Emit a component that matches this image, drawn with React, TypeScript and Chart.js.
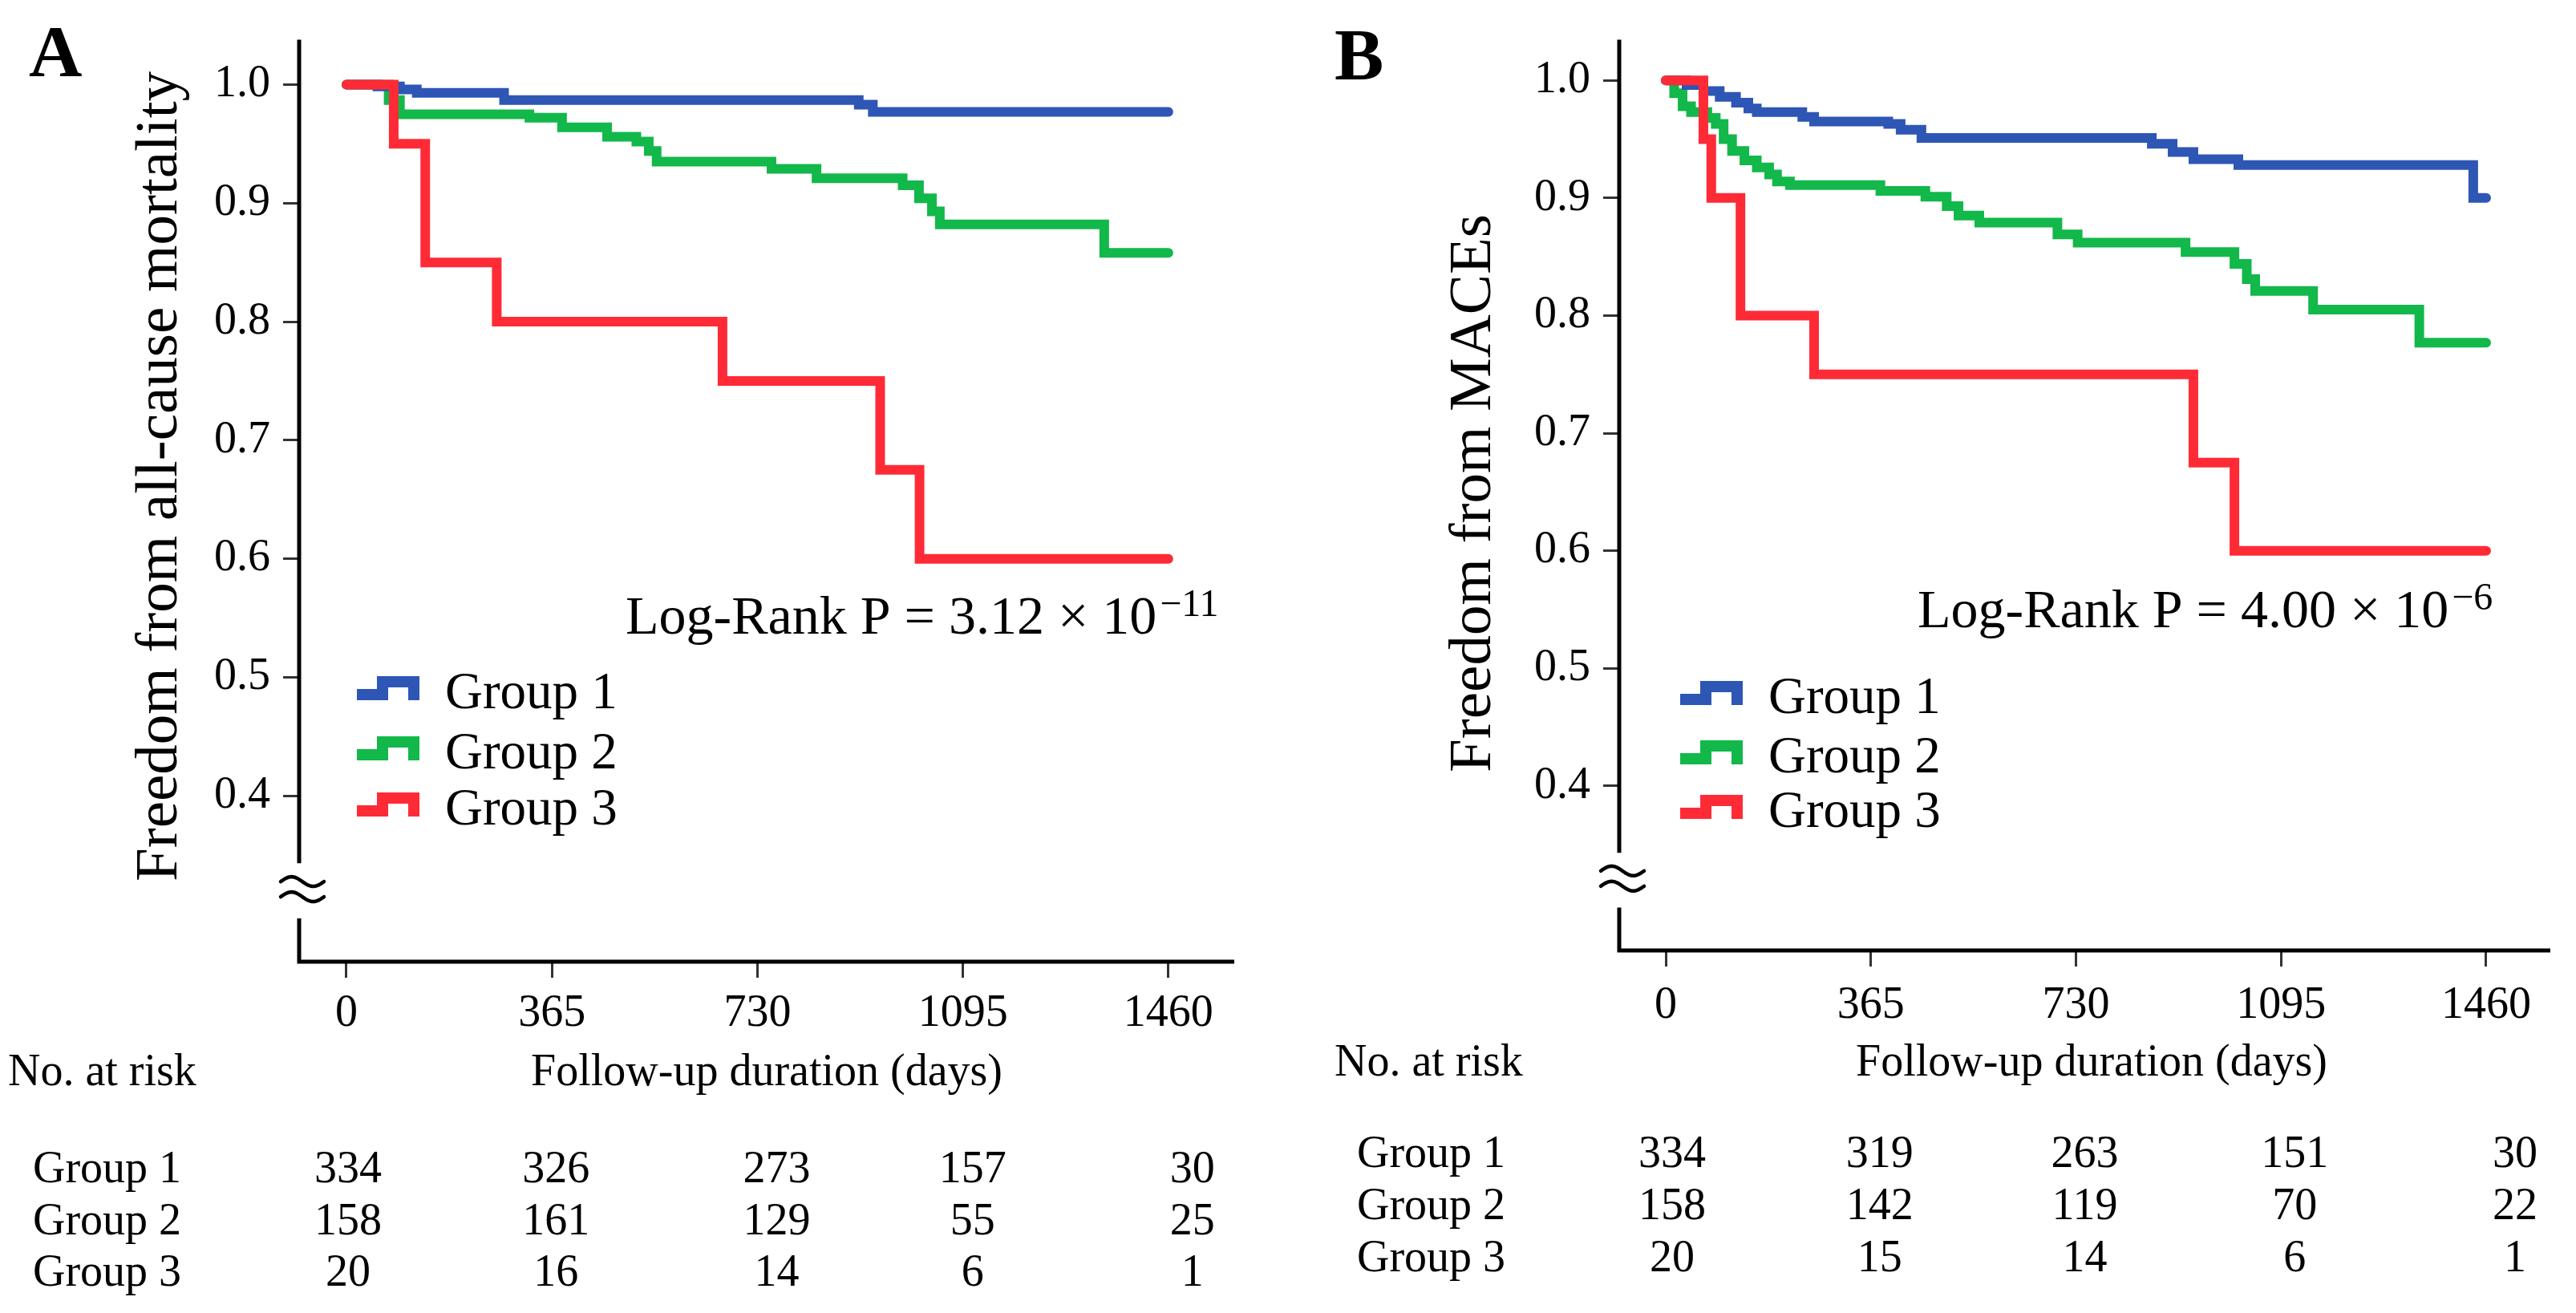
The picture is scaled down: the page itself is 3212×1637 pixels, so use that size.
import React, { useEffect, useRef } from "react";
import { Chart, registerables } from "chart.js";

Chart.register(...registerables);

// ---------- data ----------
const X_TICKS = [0, 365, 730, 1095, 1460];
const Y_TICKS = [0.4, 0.5, 0.6, 0.7, 0.8, 0.9, 1.0];
const Y_BREAK = [0.2966, 0.3432];
const GROUP_LABELS = ["Group 1", "Group 2", "Group 3"];

// Panel A: all-cause mortality
const A_G1_DAYS = [0, 55, 95, 125, 280, 910, 935, 1460];
const A_G1_SURV = [1.0, 0.9985, 0.996, 0.993, 0.987, 0.983, 0.977, 0.977];
const A_G2_DAYS = [0, 75, 95, 325, 383, 463, 515, 537, 551, 755, 835, 988, 1017, 1040, 1054, 1346, 1460];
const A_G2_SURV = [1.0, 0.987, 0.975, 0.972, 0.964, 0.956, 0.952, 0.944, 0.935, 0.929, 0.921, 0.915, 0.904, 0.893, 0.882, 0.858, 0.858];
const A_G3_DAYS = [0, 84, 140, 267, 668, 948, 1018, 1460];
const A_G3_SURV = [1.0, 0.95, 0.85, 0.8, 0.75, 0.675, 0.6, 0.6];

// Panel B: MACEs
const B_G1_DAYS = [0, 37, 67, 96, 125, 147, 162, 243, 264, 396, 418, 455, 865, 902, 939, 1019, 1437, 1460];
const B_G1_SURV = [1.0, 0.996, 0.991, 0.986, 0.981, 0.976, 0.973, 0.969, 0.965, 0.963, 0.958, 0.951, 0.946, 0.939, 0.933, 0.928, 0.9, 0.9];
const B_G2_DAYS = [0, 15, 30, 45, 74, 89, 103, 118, 140, 162, 184, 198, 221, 382, 462, 500, 521, 558, 697, 733, 925, 1012, 1034, 1049, 1152, 1341, 1460];
const B_G2_SURV = [1.0, 0.989, 0.978, 0.973, 0.968, 0.963, 0.95, 0.94, 0.932, 0.926, 0.92, 0.914, 0.911, 0.906, 0.901, 0.893, 0.885, 0.879, 0.869, 0.862, 0.854, 0.844, 0.831, 0.821, 0.805, 0.777, 0.777];
const B_G3_DAYS = [0, 67, 81, 133, 264, 939, 1012, 1460];
const B_G3_SURV = [1.0, 0.95, 0.9, 0.8, 0.75, 0.675, 0.6, 0.6];

// Numbers at risk
const RISK_A = [
  [334, 326, 273, 157, 30],
  [158, 161, 129, 55, 25],
  [20, 16, 14, 6, 1],
];
const RISK_B = [
  [334, 319, 263, 151, 30],
  [158, 142, 119, 70, 22],
  [20, 15, 14, 6, 1],
];

// ---------- style ----------
const COLORS = ["#2d56b5", "#12b84a", "#fe2b36"];
const FONT = "'Liberation Serif', 'Times New Roman', serif";

type Series = { days: number[]; surv: number[] };
type PanelSpec = {
  letter: string;
  yTitle: string;
  pMain: string;
  pExp: string;
  series: Series[];
  risk: number[][];
  left: number;
  padRight: number;
  padTop: number;
  yW: number;
  xH: number;
  xMin: number;
  xMax: number;
  yMin: number;
  yMax: number;
  xPad: number;
  letterX: number;
  letterY: number;
  titleX: number;
  titleY: number;
  pX: number;
  pY: number;
  legX: number;
  legY: number[];
  headY: number;
  noX: number;
  fuX: number;
  rowY: number[];
  rowLabelX: number;
  colOff: number[];
};

const PANELS: PanelSpec[] = [
  {
    letter: "A",
    yTitle: "Freedom from all-cause mortality",
    pMain: "Log-Rank P = 3.12 \u00d7 10",
    pExp: "\u221211",
    series: [
      { days: A_G1_DAYS, surv: A_G1_SURV },
      { days: A_G2_DAYS, surv: A_G2_SURV },
      { days: A_G3_DAYS, surv: A_G3_SURV },
    ],
    risk: RISK_A,
    left: 0,
    padRight: 67,
    padTop: 48,
    yW: 373,
    xH: 438,
    xMin: -84,
    xMax: 1577,
    yMin: 0.2601,
    yMax: 1.0378,
    xPad: 12,
    letterX: 36,
    letterY: 95,
    titleX: 220,
    titleY: 594,
    pX: 780,
    pY: 790,
    legX: 555,
    legY: [883, 958, 1028],
    headY: 1353,
    noX: 10,
    fuX: 956,
    rowY: [1474, 1539, 1603],
    rowLabelX: 41,
    colOff: [2, 5, 24, 12, 30],
  },
  {
    letter: "B",
    yTitle: "Freedom from MACEs",
    pMain: "Log-Rank P = 4.00 \u00d7 10",
    pExp: "\u22126",
    series: [
      { days: B_G1_DAYS, surv: B_G1_SURV },
      { days: B_G2_DAYS, surv: B_G2_SURV },
      { days: B_G3_DAYS, surv: B_G3_SURV },
    ],
    risk: RISK_B,
    left: 1606,
    padRight: 32,
    padTop: 39,
    yW: 413,
    xH: 452,
    xMin: -82.8,
    xMax: 1574.2,
    yMin: 0.2601,
    yMax: 1.0345,
    xPad: 16,
    letterX: 58,
    letterY: 99,
    titleX: 252,
    titleY: 615,
    pX: 785,
    pY: 782,
    legX: 599,
    legY: [889, 963, 1031],
    headY: 1341,
    noX: 58,
    fuX: 1002,
    rowY: [1455, 1520, 1585],
    rowLabelX: 86,
    colOff: [8, 11, 11, 17, 36],
  },
];

function makeDecor(spec: PanelSpec) {
  return {
    id: "kmDecor",
    afterDraw(chart: any) {
      const ctx: CanvasRenderingContext2D = chart.ctx;
      const { left, right, top, bottom } = chart.chartArea;
      const ys = chart.scales.y;
      const xs = chart.scales.x;
      ctx.save();

      // axes with break
      const yb0 = ys.getPixelForValue(Y_BREAK[0]);
      const yb1 = ys.getPixelForValue(Y_BREAK[1]);
      ctx.strokeStyle = "#000";
      ctx.lineWidth = 5;
      ctx.lineCap = "butt";
      ctx.beginPath();
      ctx.moveTo(left, top);
      ctx.lineTo(left, yb1);
      ctx.moveTo(left, yb0);
      ctx.lineTo(left, bottom + 2.5);
      ctx.moveTo(left - 2.5, bottom);
      ctx.lineTo(right, bottom);
      ctx.stroke();

      // break symbol (two waves)
      const cx = left + 4;
      const cy = (yb0 + yb1) / 2 - 2;
      ctx.lineWidth = 4.5;
      ctx.lineCap = "round";
      for (const off of [-9.5, 9.5]) {
        ctx.beginPath();
        for (let k = 0; k <= 40; k++) {
          const t = k / 40;
          const x = cx - 27 + 54 * t;
          const y = cy + off - 6 * Math.sin(2 * Math.PI * t);
          if (k === 0) ctx.moveTo(x, y);
          else ctx.lineTo(x, y);
        }
        ctx.stroke();
      }

      ctx.fillStyle = "#000";
      ctx.textBaseline = "alphabetic";

      // panel letter
      ctx.font = `bold 92px ${FONT}`;
      ctx.textAlign = "left";
      ctx.fillText(spec.letter, spec.letterX, spec.letterY);

      // y title
      ctx.save();
      ctx.translate(spec.titleX, spec.titleY);
      ctx.rotate(-Math.PI / 2);
      ctx.font = `75px ${FONT}`;
      ctx.textAlign = "center";
      ctx.fillText(spec.yTitle, 0, 0);
      ctx.restore();

      // log-rank text
      ctx.font = `68px ${FONT}`;
      ctx.textAlign = "left";
      ctx.fillText(spec.pMain, spec.pX, spec.pY);
      const w = ctx.measureText(spec.pMain).width;
      ctx.font = `48px ${FONT}`;
      ctx.fillText(spec.pExp, spec.pX + w + 4, spec.pY - 22);

      // legend
      chart.data.datasets.forEach((ds: any, i: number) => {
        const bl = spec.legY[i];
        const lx = spec.legX;
        ctx.strokeStyle = ds.borderColor;
        ctx.lineWidth = 14;
        ctx.lineCap = "butt";
        ctx.lineJoin = "miter";
        ctx.beginPath();
        ctx.moveTo(lx - 110, bl - 17);
        ctx.lineTo(lx - 78, bl - 17);
        ctx.lineTo(lx - 78, bl - 33);
        ctx.lineTo(lx - 39, bl - 33);
        ctx.lineTo(lx - 39, bl - 10);
        ctx.stroke();
        ctx.fillStyle = "#000";
        ctx.font = `65px ${FONT}`;
        ctx.textAlign = "left";
        ctx.fillText(ds.label, lx, bl);
      });

      // x title and no. at risk header
      ctx.font = `56px ${FONT}`;
      ctx.textAlign = "left";
      ctx.fillText("No. at risk", spec.noX, spec.headY);
      ctx.textAlign = "center";
      ctx.fillText("Follow-up duration (days)", spec.fuX, spec.headY);

      // risk table
      spec.risk.forEach((row, i) => {
        ctx.textAlign = "left";
        ctx.fillText(GROUP_LABELS[i], spec.rowLabelX, spec.rowY[i]);
        ctx.textAlign = "center";
        row.forEach((n, j) => {
          const x = xs.getPixelForValue(X_TICKS[j]) + spec.colOff[j];
          ctx.fillText(String(n), x, spec.rowY[i]);
        });
      });

      ctx.restore();
    },
  };
}

function buildChart(canvas: HTMLCanvasElement, spec: PanelSpec) {
  const datasets = spec.series.map((s, i) => ({
    label: GROUP_LABELS[i],
    data: s.days.map((d, j) => ({ x: d, y: s.surv[j] })),
    borderColor: COLORS[i],
    backgroundColor: COLORS[i],
    borderWidth: 12,
    stepped: true as const,
    pointRadius: 0,
    pointHoverRadius: 0,
    fill: false,
    borderCapStyle: "round" as const,
    borderJoinStyle: "miter" as const,
    order: i === 2 ? 0 : i + 1,
  }));

  return new Chart(canvas, {
    type: "line",
    data: { datasets },
    options: {
      animation: false,
      responsive: true,
      maintainAspectRatio: false,
      events: [],
      layout: { padding: { left: 0, top: spec.padTop, right: spec.padRight, bottom: 0 } },
      plugins: { legend: { display: false }, tooltip: { enabled: false }, title: { display: false } },
      scales: {
        x: {
          type: "linear",
          min: spec.xMin,
          max: spec.xMax,
          border: { display: false },
          grid: {
            drawOnChartArea: false,
            drawTicks: true,
            tickLength: 20,
            tickWidth: 3,
            tickColor: "#333",
          },
          ticks: {
            color: "#000",
            font: { family: FONT, size: 56 },
            padding: spec.xPad,
            maxRotation: 0,
            autoSkip: false,
            callback: (v: any) => String(v),
          },
          afterBuildTicks: (scale: any) => {
            scale.ticks = X_TICKS.map((v) => ({ value: v }));
          },
          afterFit: (scale: any) => {
            scale.height = spec.xH;
          },
        },
        y: {
          type: "linear",
          min: spec.yMin,
          max: spec.yMax,
          border: { display: false },
          grid: {
            drawOnChartArea: false,
            drawTicks: true,
            tickLength: 20,
            tickWidth: 3,
            tickColor: "#333",
          },
          ticks: {
            color: "#000",
            font: { family: FONT, size: 56 },
            padding: 16,
            autoSkip: false,
            callback: (v: any) => Number(v).toFixed(1),
          },
          afterBuildTicks: (scale: any) => {
            scale.ticks = Y_TICKS.map((v) => ({ value: v }));
          },
          afterFit: (scale: any) => {
            scale.width = spec.yW;
          },
        },
      },
    },
    plugins: [makeDecor(spec)],
  } as any);
}

function Panel({ spec }: { spec: PanelSpec }) {
  const ref = useRef<HTMLCanvasElement | null>(null);
  useEffect(() => {
    if (!ref.current) return;
    const chart = buildChart(ref.current, spec);
    return () => chart.destroy();
  }, [spec]);
  return (
    <div style={{ position: "absolute", left: spec.left, top: 0, width: 1606, height: 1637 }}>
      <canvas ref={ref} />
    </div>
  );
}

export default function App() {
  useEffect(() => {
    document.body.style.margin = "0";
    document.body.style.overflow = "hidden";
    document.body.style.background = "#fff";
  }, []);
  return (
    <div style={{ position: "absolute", left: 0, top: 0, width: 3212, height: 1637, background: "#fff", overflow: "hidden" }}>
      {PANELS.map((p) => (
        <Panel key={p.letter} spec={p} />
      ))}
    </div>
  );
}
